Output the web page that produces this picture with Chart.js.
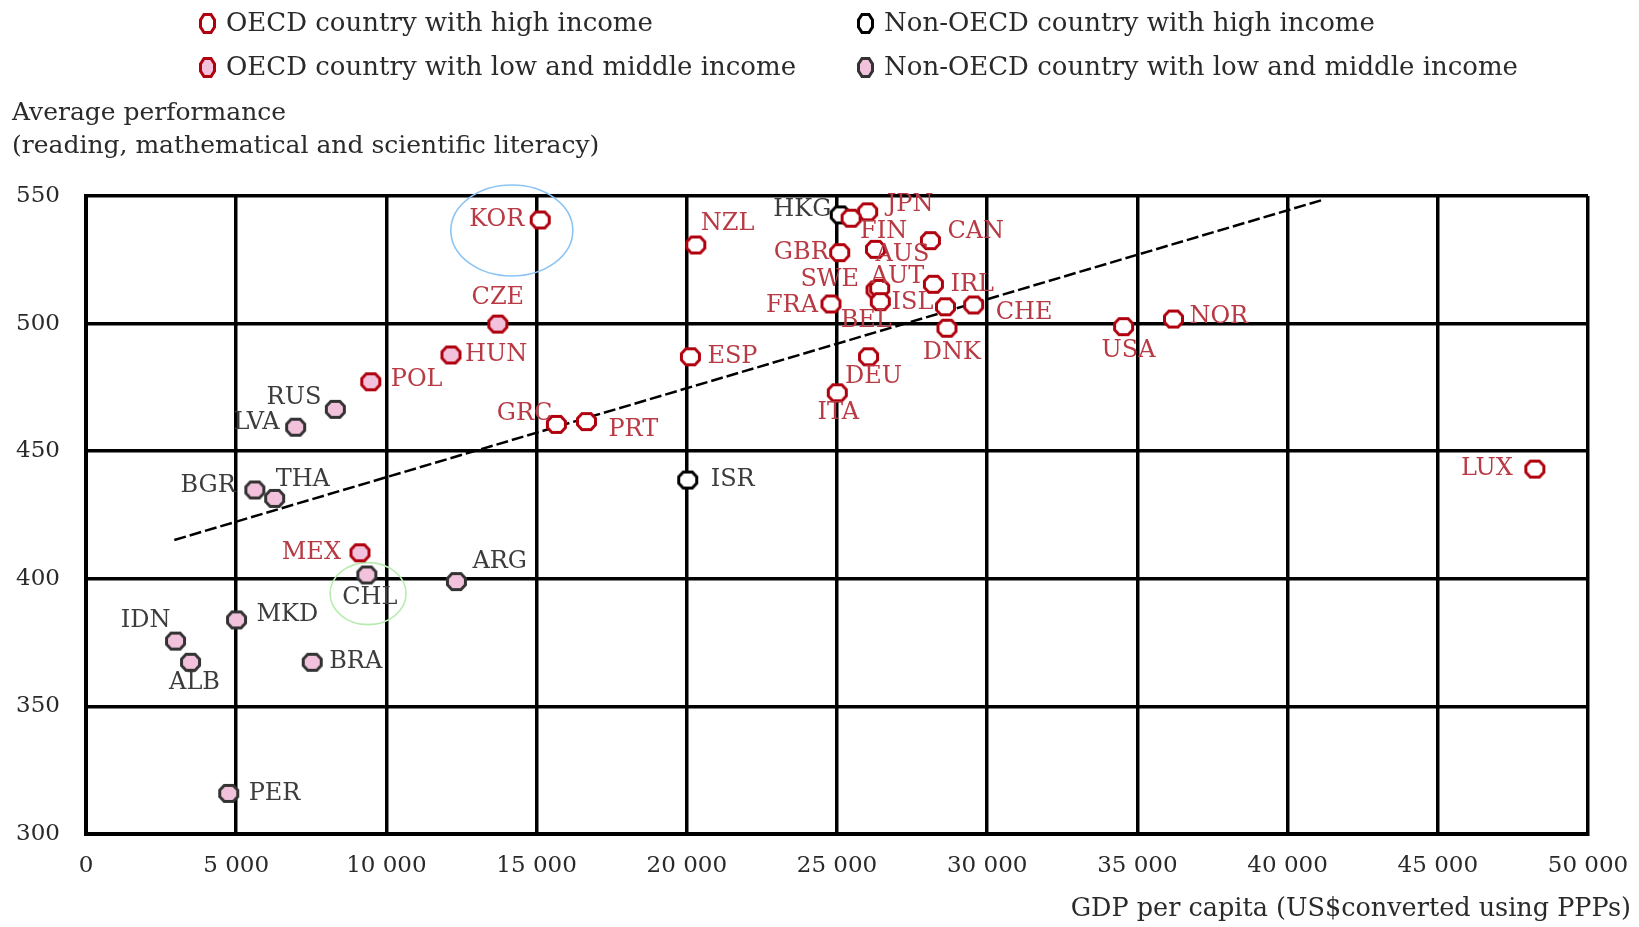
<!DOCTYPE html>
<html><head><meta charset="utf-8">
<script src="https://cdn.jsdelivr.net/npm/chart.js@4.4.0/dist/chart.umd.min.js"></script>
<style>html,body{margin:0;padding:0;background:#fff;}#c{display:block;}</style>
</head><body>
<canvas id="c" width="1639" height="927"></canvas>
<script>
// ---- data ----
const oecdHighCountries = ['KOR','NZL','JPN','FIN','GBR','AUS','CAN','SWE','AUT','IRL','FRA','BEL','ISL','CHE','DNK','ESP','DEU','ITA','USA','NOR','LUX','GRC','PRT'];
const oecdHighGdp   = [15120,20300,26020,25470,25090,26280,28110,26300,26420,28210,24800,26440,28610,29550,28660,20120,26050,25010,34540,36200,48230,15660,16660];
const oecdHighScore = [540.6,530.8,543.8,541.3,527.8,529.1,532.5,513.2,513.8,515.4,507.7,508.6,506.6,507.3,498.2,487.0,487.0,472.9,498.8,501.8,443.0,460.5,461.6];

const oecdLowCountries = ['CZE','HUN','POL','MEX'];
const oecdLowGdp   = [13710,12150,9480,9120];
const oecdLowScore = [499.8,487.7,477.2,410.2];

const nonOecdHighCountries = ['HKG','ISR'];
const nonOecdHighGdp   = [25110,20030];
const nonOecdHighScore = [542.6,438.7];

const nonOecdLowCountries = ['RUS','LVA','BGR','THA','CHL','ARG','MKD','IDN','ALB','BRA','PER'];
const nonOecdLowGdp   = [8300,6980,5620,6280,9350,12330,5010,2980,3480,7530,4750];
const nonOecdLowScore = [466.4,459.4,434.8,431.5,401.5,398.9,383.9,375.6,367.3,367.3,315.9];

const trendGdp   = [2940, 41230];
const trendScore = [415.2, 548.7];

const xTickLabels = ['0','5 000','10 000','15 000','20 000','25 000','30 000','35 000','40 000','45 000','50 000'];
const yTickLabels = ['300','350','400','450','500','550'];

const seriesNames = ['OECD country with high income','OECD country with low and middle income','Non-OECD country with high income','Non-OECD country with low and middle income'];

// ---- styling / placement config ----
const FONT = "'DejaVu Serif', serif";
const RED = '#b0000e', PINK = '#f2c2dc', DARK = '#333333';
const RED_TEXT = '#b83a44', GREY_TEXT = '#3c3c3c';

// label placement: [textAlign, dx, dy] relative to marker centre (pixels)
const labelPlacement = {
  KOR:['right',-16,0], NZL:['left',5,-21], JPN:['left',19,-7], FIN:['left',9,14], HKG:['right',-9,-5],
  GBR:['right',-11,0], AUS:['left',0,5], CAN:['left',17,-9], SWE:['right',-17,-10], AUT:['left',-9,-12],
  IRL:['left',17,0], FRA:['right',-13,2], BEL:['center',-14,19], ISL:['right',-12,-4], CHE:['left',22,8],
  DNK:['center',5,25], ESP:['left',17,0], DEU:['center',5,20], ITA:['center',1,20], USA:['center',5,24],
  NOR:['left',16,-2], LUX:['right',-22,0], GRC:['right',-4,-11], PRT:['left',22,8], CZE:['center',0,-26],
  HUN:['left',14,0], POL:['left',20,-2], MEX:['right',-19,0], ISR:['left',23,0], RUS:['right',-14,-12],
  LVA:['right',-16,-4], BGR:['right',-19,-4], THA:['left',1,-19], CHL:['center',3,23], ARG:['left',16,-20],
  MKD:['left',20,-5], IDN:['right',-5,-20], ALB:['center',4,21], BRA:['left',17,0], PER:['left',20,0]
};

const highlightRings = [
  {x:14175, y:536.5, rx:61, ry:45.5, color:'#8cc4f4'},
  {x:9390,  y:394.2, rx:38, ry:31,   color:'#b8ecb0'}
];

function makeMarker(w, h, fill, stroke, lw) {
  const c = document.createElement('canvas');
  const pad = 1;
  c.width = w + pad * 2; c.height = h + pad * 2;
  const g = c.getContext('2d');
  const cx = c.width / 2, cy = c.height / 2;
  const hw = w / 2 - lw / 2, hh = h / 2 - lw / 2;
  const kx = hw * 0.5, ky = hh * 0.4;
  g.beginPath();
  g.moveTo(cx - kx, cy - hh); g.lineTo(cx + kx, cy - hh);
  g.lineTo(cx + hw, cy - ky); g.lineTo(cx + hw, cy + ky);
  g.lineTo(cx + kx, cy + hh); g.lineTo(cx - kx, cy + hh);
  g.lineTo(cx - hw, cy + ky); g.lineTo(cx - hw, cy - ky);
  g.closePath();
  g.fillStyle = fill; g.fill();
  g.lineWidth = lw; g.strokeStyle = stroke; g.stroke();
  return c;
}

const groups = [
  {names: oecdHighCountries, gdp: oecdHighGdp, score: oecdHighScore, fill: '#ffffff', stroke: RED, text: RED_TEXT},
  {names: oecdLowCountries, gdp: oecdLowGdp, score: oecdLowScore, fill: PINK, stroke: RED, text: RED_TEXT},
  {names: nonOecdHighCountries, gdp: nonOecdHighGdp, score: nonOecdHighScore, fill: '#ffffff', stroke: '#000000', text: GREY_TEXT},
  {names: nonOecdLowCountries, gdp: nonOecdLowGdp, score: nonOecdLowScore, fill: PINK, stroke: DARK, text: GREY_TEXT}
];
groups.forEach(g => {
  g.marker = makeMarker(21, 19, g.fill, g.stroke, 3);
  g.legendMarker = makeMarker(17, 21, g.fill, g.stroke, 3);
});

const datasets = groups.map((g, i) => ({
  label: seriesNames[i],
  data: g.gdp.map((x, k) => ({x, y: g.score[k]})),
  pointStyle: g.marker,
  pointRadius: 9,
  clip: false,
  order: [1, 2, 3, 4][i]
}));
datasets.push({
  type: 'line',
  label: 'trend',
  data: trendGdp.map((x, k) => ({x, y: trendScore[k]})),
  borderColor: '#000', borderWidth: 2.5, borderDash: [12, 4],
  pointRadius: 0, fill: false, order: 10
});

const ringPlugin = {
  id: 'rings',
  beforeDatasetsDraw(chart) {
    const {ctx, scales: {x, y}} = chart;
    ctx.save();
    highlightRings.forEach(r => {
      ctx.beginPath();
      ctx.ellipse(x.getPixelForValue(r.x), y.getPixelForValue(r.y), r.rx, r.ry, 0, 0, Math.PI * 2);
      ctx.lineWidth = 1.6; ctx.strokeStyle = r.color; ctx.stroke();
    });
    ctx.restore();
  }
};

const labelPlugin = {
  id: 'pointLabels',
  afterDatasetsDraw(chart) {
    const ctx = chart.ctx;
    ctx.save();
    ctx.font = '24px ' + FONT;
    ctx.textBaseline = 'middle';
    groups.forEach((g, di) => {
      const meta = chart.getDatasetMeta(di);
      meta.data.forEach((pt, i) => {
        const name = g.names[i];
        const p = labelPlacement[name] || ['left', 14, 0];
        ctx.fillStyle = g.text;
        ctx.textAlign = p[0];
        ctx.fillText(name, pt.x + p[1], pt.y + p[2]);
      });
    });
    ctx.restore();
  }
};

const legendSlots = [[207, 23], [207, 67], [865, 23], [865, 67]];
const legendPlugin = {
  id: 'customLegend',
  afterDraw(chart) {
    const ctx = chart.ctx;
    ctx.save();
    ctx.font = '26px ' + FONT;
    ctx.textBaseline = 'middle';
    ctx.textAlign = 'left';
    ctx.fillStyle = '#2a2a2a';
    groups.forEach((g, i) => {
      const [lx, ly] = legendSlots[i];
      const m = g.legendMarker;
      ctx.drawImage(m, Math.round(lx - m.width / 2), Math.round(ly - m.height / 2));
      ctx.fillText(chart.data.datasets[i].label, lx + 19, ly + 1);
    });
    // x-axis title
    ctx.font = '25.5px ' + FONT;
    ctx.textAlign = 'right';
    ctx.fillText('GDP per capita (US$converted using PPPs)', chart.width - 8, 909);
    ctx.restore();
  }
};

new Chart(document.getElementById('c'), {
  type: 'scatter',
  data: {datasets},
  options: {
    responsive: false,
    animation: false,
    devicePixelRatio: 1,
    events: [],
    layout: {padding: {left: 12, right: 51, top: 0, bottom: 0}},
    plugins: {
      legend: {display: false},
      tooltip: {enabled: false},
      title: {
        display: true,
        text: ['Average performance', '(reading, mathematical and scientific literacy)'],
        align: 'start',
        color: '#2a2a2a',
        font: {family: FONT, size: 25, weight: 'normal', lineHeight: 1.32},
        padding: {top: 96.5, bottom: 33.5}
      }
    },
    scales: {
      x: {
        type: 'linear', min: 0, max: 50000,
        ticks: {stepSize: 5000, padding: 8, color: '#2a2a2a', font: {family: FONT, size: 23, lineHeight: 2.07},
                maxRotation: 0, autoSkip: false,
                callback: (v, i) => xTickLabels[i]},
        grid: {color: '#000', lineWidth: 3.5, drawTicks: false},
        border: {color: '#000', width: 4},
        afterFit: s => { s.height = 93; }
      },
      y: {
        type: 'linear', min: 300, max: 550,
        ticks: {stepSize: 50, padding: 26, color: '#2a2a2a', font: {family: FONT, size: 23},
                callback: (v, i) => yTickLabels[i]},
        grid: {color: '#000', lineWidth: 3.5, drawTicks: false},
        border: {color: '#000', width: 4},
        afterFit: s => { s.width = 74; }
      }
    }
  },
  plugins: [ringPlugin, labelPlugin, legendPlugin]
});
</script>
</body></html>
